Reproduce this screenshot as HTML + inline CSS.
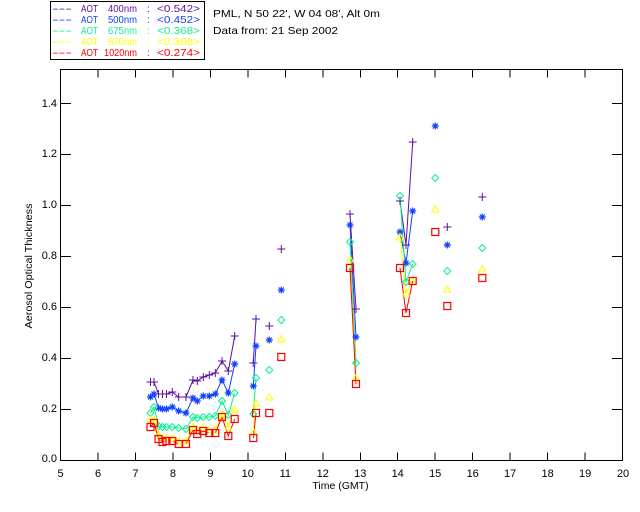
<!DOCTYPE html>
<html><head><meta charset="utf-8"><style>html,body{margin:0;padding:0;background:#fff}svg{display:block}</style></head>
<body>
<svg width="640" height="512" viewBox="0 0 640 512" xmlns="http://www.w3.org/2000/svg" font-family="'Liberation Sans', sans-serif" font-size="10">
<rect width="640" height="512" fill="#fff"/>
<defs>
<path id="mp" d="M-4,0H4M0,-4V4" stroke="#5f0fa0" stroke-width="1" fill="none"/>
<path id="mb" d="M-3.5,0H3.5M0,-3.5V3.5M-2.5,-2.5L2.5,2.5M-2.5,2.5L2.5,-2.5" stroke="#1040ff" stroke-width="1.2" fill="none"/>
<path id="mg" d="M0,-3.5L3.5,0L0,3.5L-3.5,0Z" stroke="#10f090" stroke-width="1" fill="none"/>
<path id="my" d="M-3.5,3L3.5,3L0,-3.5Z" stroke="#ffff00" stroke-width="1" fill="none"/>
<rect id="mr" x="-3.5" y="-3.5" width="7" height="7" stroke="#ff0000" stroke-width="1.2" fill="none"/>
</defs>

<!-- legend -->
<rect x="50.5" y="1.5" width="154" height="58" fill="none" stroke="#000" stroke-width="1"/>
<g font-size="10.5" lengthAdjust="spacingAndGlyphs">
<g fill="#5f0fa0"><text x="52" y="12" textLength="20" lengthAdjust="spacingAndGlyphs">---</text><text x="81" y="12" textLength="17" lengthAdjust="spacingAndGlyphs">AOT</text><text x="108" y="12" textLength="29" lengthAdjust="spacingAndGlyphs">400nm</text><text x="147" y="12">:</text><text x="157" y="12" textLength="43" lengthAdjust="spacingAndGlyphs">&lt;0.542&gt;</text></g>
<g fill="#1040ff"><text x="52" y="23" textLength="20" lengthAdjust="spacingAndGlyphs">---</text><text x="81" y="23" textLength="17" lengthAdjust="spacingAndGlyphs">AOT</text><text x="108" y="23" textLength="29" lengthAdjust="spacingAndGlyphs">500nm</text><text x="147" y="23">:</text><text x="157" y="23" textLength="43" lengthAdjust="spacingAndGlyphs">&lt;0.452&gt;</text></g>
<g fill="#10f090"><text x="52" y="34" textLength="20" lengthAdjust="spacingAndGlyphs">---</text><text x="81" y="34" textLength="17" lengthAdjust="spacingAndGlyphs">AOT</text><text x="108" y="34" textLength="29" lengthAdjust="spacingAndGlyphs">675nm</text><text x="147" y="34">:</text><text x="157" y="34" textLength="43" lengthAdjust="spacingAndGlyphs">&lt;0.368&gt;</text></g>
<g fill="#ffff00"><text x="52" y="45" textLength="20" lengthAdjust="spacingAndGlyphs">---</text><text x="81" y="45" textLength="17" lengthAdjust="spacingAndGlyphs">AOT</text><text x="108" y="45" textLength="29" lengthAdjust="spacingAndGlyphs">870nm</text><text x="147" y="45">:</text><text x="157" y="45" textLength="43" lengthAdjust="spacingAndGlyphs">&lt;0.308&gt;</text></g>
<g fill="#ff0000"><text x="52" y="56" textLength="20" lengthAdjust="spacingAndGlyphs">---</text><text x="81" y="56" textLength="17" lengthAdjust="spacingAndGlyphs">AOT</text><text x="104" y="56" textLength="33" lengthAdjust="spacingAndGlyphs">1020nm</text><text x="147" y="56">:</text><text x="157" y="56" textLength="43" lengthAdjust="spacingAndGlyphs">&lt;0.274&gt;</text></g>
</g>
<text x="213" y="17" font-size="10.5" textLength="167" lengthAdjust="spacingAndGlyphs" fill="#000">PML, N 50 22', W 04 08', Alt 0m</text>
<text x="213" y="34" font-size="10.5" textLength="125" lengthAdjust="spacingAndGlyphs" fill="#000">Data from: 21 Sep 2002</text>

<!-- axes -->
<g stroke="#000" stroke-width="1" fill="none" shape-rendering="crispEdges">
<rect x="60.5" y="69.5" width="562" height="391"/>
<path d="M98,460.5V452.5M135.4,460.5V452.5M172.9,460.5V452.5M210.4,460.5V452.5M247.8,460.5V452.5M285.3,460.5V452.5M322.8,460.5V452.5M360.3,460.5V452.5M397.7,460.5V452.5M435.2,460.5V452.5M472.7,460.5V452.5M510.1,460.5V452.5M547.6,460.5V452.5M585.1,460.5V452.5"/>
<path d="M98,69.5V77.5M135.4,69.5V77.5M172.9,69.5V77.5M210.4,69.5V77.5M247.8,69.5V77.5M285.3,69.5V77.5M322.8,69.5V77.5M360.3,69.5V77.5M397.7,69.5V77.5M435.2,69.5V77.5M472.7,69.5V77.5M510.1,69.5V77.5M547.6,69.5V77.5M585.1,69.5V77.5"/>
<path d="M60.5,409.5H71M60.5,358.5H71M60.5,307.5H71M60.5,256.5H71M60.5,205.5H71M60.5,154.5H71M60.5,103.5H71"/>
<path d="M612,409.5H623M612,358.5H623M612,307.5H623M612,256.5H623M612,205.5H623M612,154.5H623M612,103.5H623"/>
</g>
<g fill="#000" text-anchor="end" font-size="11">
<text x="57" y="462">0.0</text><text x="57" y="412">0.2</text><text x="57" y="361">0.4</text><text x="57" y="310">0.6</text><text x="57" y="259">0.8</text><text x="57" y="208">1.0</text><text x="57" y="157">1.2</text><text x="57" y="107">1.4</text>
</g>
<g fill="#000" text-anchor="middle" font-size="11">
<text x="60.5" y="477">5</text><text x="98" y="477">6</text><text x="135.4" y="477">7</text><text x="172.9" y="477">8</text><text x="210.4" y="477">9</text><text x="247.8" y="477">10</text><text x="285.3" y="477">11</text><text x="322.8" y="477">12</text><text x="360.3" y="477">13</text><text x="397.7" y="477">14</text><text x="435.2" y="477">15</text><text x="472.7" y="477">16</text><text x="510.1" y="477">17</text><text x="547.6" y="477">18</text><text x="585.1" y="477">19</text><text x="623" y="477">20</text>
<text x="340.5" y="489" font-size="10.5">Time (GMT)</text>
<text transform="translate(32,266) rotate(-90)" font-size="10" textLength="125" lengthAdjust="spacingAndGlyphs">Aerosol Optical Thickness</text>
</g>

<!-- series lines -->
<g fill="none" stroke-width="1">
<g stroke="#5f0fa0">
<polyline points="150.5,382 154,382 158.5,394 162.5,394 166.5,394 172.3,392 178.7,397 186,397 193,380 197.3,381 203.3,377 209.3,375 215.3,373 222,361 228.3,371 234.7,336"/>
<polyline points="253.3,363 256,319"/>
<polyline points="350,214 356,309"/>
<polyline points="400,201 406,245 412.7,142"/>
</g>
<g stroke="#1040ff">
<polyline points="150.5,397 154,394 158.5,408 162.5,409 166.5,409 172.3,407 178.7,411 186,413 193,398 197.3,401 203.3,396 209.3,396 215.3,394 222,380 228.3,393 234.7,364"/>
<polyline points="253.3,386 256,346"/>
<polyline points="350,225 356,337"/>
<polyline points="400,232 406,263 412.7,211"/>
</g>
<g stroke="#10f090">
<polyline points="150.5,413 154,407 158.5,426 162.5,427 166.5,427 172.3,427 178.7,428 186,429 193,417 197.3,418 203.3,417 209.3,417 215.3,416 222,401 228.3,415 234.7,393"/>
<polyline points="253.3,414 256,378"/>
<polyline points="350,242 356,363"/>
<polyline points="400,196 406,282 412.7,264"/>
</g>
<g stroke="#ffff00">
<polyline points="150.5,419 154,420 158.5,435 162.5,438 166.5,438 172.3,438 178.7,441 186,441 193,427 197.3,429 203.3,427 209.3,430 215.3,430 222,414 228.3,427 234.7,409"/>
<polyline points="253.3,432 256,403"/>
<polyline points="350,259 356,378"/>
<polyline points="400,237 406,293 412.7,281"/>
</g>
<g stroke="#ff0000">
<polyline points="150.5,427 154,423 158.5,439 162.5,442 166.5,441 172.3,441 178.7,444 186,444 193,430 197.3,434 203.3,431 209.3,433 215.3,433 222,417 228.3,436 234.7,419"/>
<polyline points="253.3,438 256,413"/>
<polyline points="350,268 356,384"/>
<polyline points="400,268 406,313 412.7,281"/>
</g>
</g>

<!-- markers purple -->
<g>
<use href="#mp" x="150.5" y="382"/><use href="#mp" x="154" y="382"/><use href="#mp" x="158.5" y="394"/><use href="#mp" x="162.5" y="394"/><use href="#mp" x="166.5" y="394"/><use href="#mp" x="172.3" y="392"/><use href="#mp" x="178.7" y="397"/><use href="#mp" x="186" y="397"/><use href="#mp" x="193" y="380"/><use href="#mp" x="197.3" y="381"/><use href="#mp" x="203.3" y="377"/><use href="#mp" x="209.3" y="375"/><use href="#mp" x="215.3" y="373"/><use href="#mp" x="222" y="361"/><use href="#mp" x="228.3" y="371"/><use href="#mp" x="234.7" y="336"/>
<use href="#mp" x="253.3" y="363"/><use href="#mp" x="256" y="319"/><use href="#mp" x="269.3" y="326"/><use href="#mp" x="281.3" y="249"/>
<use href="#mp" x="350" y="214"/><use href="#mp" x="356" y="309"/>
<use href="#mp" x="400" y="201"/><use href="#mp" x="406" y="245"/><use href="#mp" x="412.7" y="142"/>
<use href="#mp" x="447.3" y="227"/><use href="#mp" x="482.3" y="197"/>
</g>
<!-- markers blue -->
<g>
<use href="#mb" x="150.5" y="397"/><use href="#mb" x="154" y="394"/><use href="#mb" x="158.5" y="408"/><use href="#mb" x="162.5" y="409"/><use href="#mb" x="166.5" y="409"/><use href="#mb" x="172.3" y="407"/><use href="#mb" x="178.7" y="411"/><use href="#mb" x="186" y="413"/><use href="#mb" x="193" y="398"/><use href="#mb" x="197.3" y="401"/><use href="#mb" x="203.3" y="396"/><use href="#mb" x="209.3" y="396"/><use href="#mb" x="215.3" y="394"/><use href="#mb" x="222" y="380"/><use href="#mb" x="228.3" y="393"/><use href="#mb" x="234.7" y="364"/>
<use href="#mb" x="253.3" y="386"/><use href="#mb" x="256" y="346"/><use href="#mb" x="269.3" y="340"/><use href="#mb" x="281.3" y="290"/>
<use href="#mb" x="350" y="225"/><use href="#mb" x="356" y="337"/>
<use href="#mb" x="400" y="232"/><use href="#mb" x="406" y="263"/><use href="#mb" x="412.7" y="211"/>
<use href="#mb" x="435.3" y="126"/><use href="#mb" x="447.3" y="245"/><use href="#mb" x="482.3" y="217"/>
</g>
<!-- markers green -->
<g>
<use href="#mg" x="150.5" y="413"/><use href="#mg" x="154" y="407"/><use href="#mg" x="158.5" y="426"/><use href="#mg" x="162.5" y="427"/><use href="#mg" x="166.5" y="427"/><use href="#mg" x="172.3" y="427"/><use href="#mg" x="178.7" y="428"/><use href="#mg" x="186" y="429"/><use href="#mg" x="193" y="417"/><use href="#mg" x="197.3" y="418"/><use href="#mg" x="203.3" y="417"/><use href="#mg" x="209.3" y="417"/><use href="#mg" x="215.3" y="416"/><use href="#mg" x="222" y="401"/><use href="#mg" x="228.3" y="415"/><use href="#mg" x="234.7" y="393"/>
<use href="#mg" x="253.3" y="414"/><use href="#mg" x="256" y="378"/><use href="#mg" x="269.3" y="370"/><use href="#mg" x="281.3" y="320"/>
<use href="#mg" x="350" y="242"/><use href="#mg" x="356" y="363"/>
<use href="#mg" x="400" y="196"/><use href="#mg" x="406" y="282"/><use href="#mg" x="412.7" y="264"/>
<use href="#mg" x="435.3" y="178"/><use href="#mg" x="447.3" y="271"/><use href="#mg" x="482.3" y="248"/>
</g>
<!-- markers yellow -->
<g>
<use href="#my" x="150.5" y="419"/><use href="#my" x="154" y="420"/><use href="#my" x="158.5" y="435"/><use href="#my" x="162.5" y="438"/><use href="#my" x="166.5" y="438"/><use href="#my" x="172.3" y="438"/><use href="#my" x="178.7" y="441"/><use href="#my" x="186" y="441"/><use href="#my" x="193" y="427"/><use href="#my" x="197.3" y="429"/><use href="#my" x="203.3" y="427"/><use href="#my" x="209.3" y="430"/><use href="#my" x="215.3" y="430"/><use href="#my" x="222" y="414"/><use href="#my" x="228.3" y="427"/><use href="#my" x="234.7" y="409"/>
<use href="#my" x="253.3" y="432"/><use href="#my" x="256" y="403"/><use href="#my" x="269.3" y="397"/><use href="#my" x="281.3" y="339"/>
<use href="#my" x="350" y="259"/><use href="#my" x="356" y="378"/>
<use href="#my" x="400" y="237"/><use href="#my" x="406" y="293"/><use href="#my" x="412.7" y="281"/>
<use href="#my" x="435.3" y="209"/><use href="#my" x="447.3" y="289"/><use href="#my" x="482.3" y="269"/>
</g>
<!-- markers red -->
<g>
<use href="#mr" x="150.5" y="427"/><use href="#mr" x="154" y="423"/><use href="#mr" x="158.5" y="439"/><use href="#mr" x="162.5" y="442"/><use href="#mr" x="166.5" y="441"/><use href="#mr" x="172.3" y="441"/><use href="#mr" x="178.7" y="444"/><use href="#mr" x="186" y="444"/><use href="#mr" x="193" y="430"/><use href="#mr" x="197.3" y="434"/><use href="#mr" x="203.3" y="431"/><use href="#mr" x="209.3" y="433"/><use href="#mr" x="215.3" y="433"/><use href="#mr" x="222" y="417"/><use href="#mr" x="228.3" y="436"/><use href="#mr" x="234.7" y="419"/>
<use href="#mr" x="253.3" y="438"/><use href="#mr" x="256" y="413"/><use href="#mr" x="269.3" y="413"/><use href="#mr" x="281.3" y="357"/>
<use href="#mr" x="350" y="268"/><use href="#mr" x="356" y="384"/>
<use href="#mr" x="400" y="268"/><use href="#mr" x="406" y="313"/><use href="#mr" x="412.7" y="281"/>
<use href="#mr" x="435.3" y="232"/><use href="#mr" x="447.3" y="306"/><use href="#mr" x="482.3" y="278"/>
</g>
</svg>
</body></html>
